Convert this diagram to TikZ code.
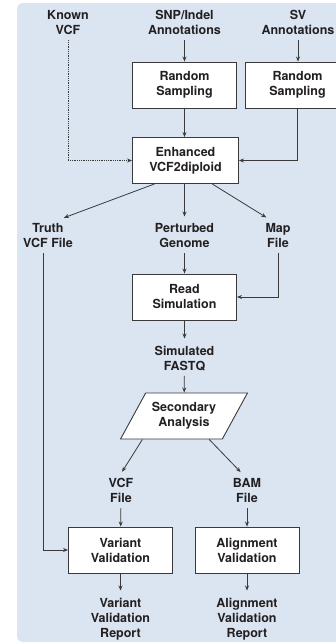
\documentclass[tikz,border=0pt]{standalone}
\usepackage{fontspec}
\setmainfont{TeX Gyre Heros}
\usetikzlibrary{arrows.meta,shapes.geometric,calc}
\definecolor{panelblue}{HTML}{DAE5F1}
\definecolor{inkgray}{HTML}{231F20}
\definecolor{linegray}{HTML}{3A3A3A}
\tikzset{
  lbl/.style={font=\fontsize{12.5}{15}\selectfont\bfseries, text=inkgray, align=center, anchor=north, inner xsep=1pt, inner ysep=5pt},
  procbox/.style={draw=linegray, fill=white, line width=0.9pt, minimum width=104pt, minimum height=46pt,
    font=\fontsize{12.5}{15}\selectfont\bfseries, text=inkgray, align=center},
  flow/.style={draw=linegray, line width=0.8pt, -{Stealth[length=5pt,width=4pt]}},
  intolbl/.style={shorten >=2pt},
}
\begin{document}
\begin{tikzpicture}[x=1pt,y=-1pt]
\useasboundingbox (0,0) rectangle (336,643);
\clip (0,0) rectangle (336,643);

%Shape: Panel
\fill[panelblue, rounded corners=6pt] (17,3) rectangle (380,642);

% Text Node
\node[lbl] (known) at (68,5.5) {Known\\VCF};
\node[lbl] (snp) at (184.5,5.5) {SNP/Indel\\Annotations};
\node[lbl] (sv) at (298,5.5) {SV\\Annotations};

% Box Node
\node[procbox] (rs1) at (184.5,85) {Random\\Sampling};
\node[procbox] (rs2) at (297.5,85) {Random\\Sampling};
\node[procbox, minimum width=106pt] (enh) at (185.5,160.5) {Enhanced\\VCF2diploid};

% Text Node
\node[lbl] (truth) at (48,218.5) {Truth\\VCF File};
\node[lbl] (pert) at (184.5,218.5) {Perturbed\\Genome};
\node[lbl] (mapf) at (278,218.5) {Map\\File};

\node[procbox] (read) at (184.5,297) {Read\\Simulation};
\node[lbl] (fastq) at (184.5,340.5) {Simulated\\FASTQ};

%Shape: Parallelogram
\node[procbox, trapezium, trapezium left angle=58, trapezium right angle=122, trapezium stretches=true,
  minimum width=127pt, minimum height=46pt, inner xsep=0pt] (sa) at (184,416) {Secondary\\Analysis};

\node[lbl] (vcff) at (121,473.5) {VCF\\File};
\node[lbl] (bamf) at (247,473.5) {BAM\\File};

\node[procbox] (var) at (120.5,550) {Variant\\Validation};
\node[procbox] (aln) at (247,550) {Alignment\\Validation};

\node[lbl] (varrep) at (120.5,592.5) {Variant\\Validation\\Report};
\node[lbl] (alnrep) at (247,592.5) {Alignment\\Validation\\Report};

%Straight Lines
\draw[flow] (snp) -- (rs1);
\draw[flow] (sv.south) -- (sv.south |- rs2.north);
\draw[flow] (rs1) -- (rs1 |- enh.north);
\draw[flow, densely dotted] (known.south) |- (enh.west);
\draw[flow] (rs2.south) |- (enh.east);

\draw[flow, intolbl] ($(enh.south west)!0.21!(enh.south east)$) -- ([xshift=14pt]truth.north);
\draw[flow, intolbl] (enh.south -| pert) -- (pert.north);
\draw[flow, intolbl] ($(enh.south west)!0.75!(enh.south east)$) -- ([xshift=-10pt]mapf.north);

\draw[flow] ([xshift=-5pt]truth.south) |- (var.west);
\draw[flow] (pert) -- (read);
\draw[flow] (mapf.south) |- (read.east);
\draw[flow, intolbl] (read) -- (fastq);
\draw[flow] (fastq) -- (sa);

\draw[flow, intolbl] ($(sa.bottom left corner)!0.22!(sa.bottom right corner)$) -- (vcff.north);
\draw[flow, intolbl] ($(sa.bottom left corner)!0.87!(sa.bottom right corner)$) -- ([xshift=-5pt]bamf.north);

\draw[flow] (vcff) -- (var);
\draw[flow] (bamf) -- (aln);
\draw[flow, intolbl] (var) -- (varrep);
\draw[flow, intolbl] (aln) -- (alnrep);

\end{tikzpicture}
\end{document}
